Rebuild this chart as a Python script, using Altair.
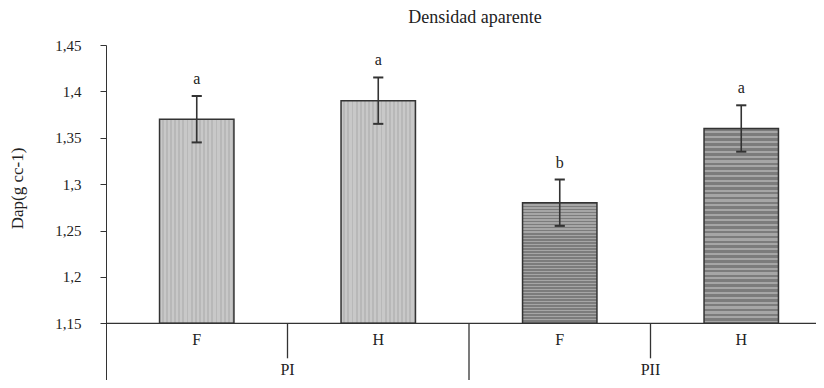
import altair as alt
import pandas as pd

# ---- data ----
groups = ["PI", "PI", "PII", "PII"]
treatments = ["F", "H", "F", "H"]
means = [1.37, 1.39, 1.28, 1.36]
errors = [0.025, 0.025, 0.025, 0.025]
letters = ["a", "a", "b", "a"]
y_ticks = [1.15, 1.2, 1.25, 1.3, 1.35, 1.4, 1.45]
title_text = "Densidad aparente"
y_title = "Dap(g cc-1)"

# ---- layout constants ----
BASE = 1.15
YTOP = 1.45
PLOT_H = 335
PPU = 278.3 / 0.3           # pixels per unit on y
YMIN = YTOP - PLOT_H / PPU
PLOT_W = 710
XMAX = PLOT_W / 181.5
FONT = "Liberation Serif"
INK = "#333333"

df = pd.DataFrame({
    "group": groups, "treat": treatments, "mean": means,
    "err": errors, "letter": letters,
})
df["pos"] = range(len(df))

# group label positions (centre of each group's members)
gdf = df.groupby("group", sort=False)["pos"].mean().reset_index()
gdf["xc"] = gdf["pos"] + 0.5

# separators: between treatments inside a group (short) and between groups (long)
sep_rows = []
for i in range(1, len(df)):
    kind = "outer" if df.loc[i, "group"] != df.loc[i - 1, "group"] else "inner"
    sep_rows.append({"xs": i, "kind": kind})
sdf = pd.DataFrame(sep_rows)

xscale = alt.Scale(domain=[0, XMAX], nice=False, zero=False)
yscale = alt.Scale(domain=[YMIN, YTOP], nice=False, zero=False)
yaxis = alt.Axis(
    values=y_ticks, grid=False, tickSize=6, tickColor=INK, domainColor=INK,
    labelFont=FONT, labelFontSize=15, labelColor="#222222", labelPadding=19,
    labelExpr="replace(format(datum.value, '.2~f'), '.', ',')",
    titleFont=FONT, titleFontSize=17, titleFontWeight="normal", titleColor="#222222",
    titleX=-80, titleY=143, titleAngle=-90,
)


def X(f):
    return alt.X(f, type="quantitative", scale=xscale, axis=None)


def Y(f):
    return alt.Y(f, type="quantitative", scale=yscale, axis=yaxis, title=y_title)


def stripes(c1, c2, n, vertical_lines):
    stops = []
    for i in range(n):
        a, b, c = i / n, (i + 0.55) / n, (i + 1) / n
        stops += [
            alt.GradientStop(color=c1, offset=a),
            alt.GradientStop(color=c1, offset=b),
            alt.GradientStop(color=c2, offset=b),
            alt.GradientStop(color=c2, offset=c),
        ]
    if vertical_lines:
        return alt.Gradient(gradient="linear", stops=stops, x1=0, x2=1, y1=0, y2=0)
    return alt.Gradient(gradient="linear", stops=stops, x1=0, x2=0, y1=0, y2=1)


fill_pi = stripes("#c8c8c8", "#b8b8b8", 18, True)
fill_pii = stripes("#7c7c7c", "#a6a6a6", 40, False)

base = alt.Chart(df).transform_calculate(
    xc="datum.pos + 0.5",
    xl="datum.pos + 0.295",
    xr="datum.pos + 0.705",
    lo="datum.mean - datum.err",
    hi="datum.mean + datum.err",
    cl="datum.pos + 0.5 - 0.028",
    cr="datum.pos + 0.5 + 0.028",
    b0=f"{BASE}",
    ylab=f"{BASE - 17 / PPU}",
)

bars_pi = base.transform_filter("datum.group == 'PI'").mark_bar(
    fill=fill_pi, stroke=INK, strokeWidth=1.5
).encode(x=X("xl"), x2="xr", y=Y("mean"), y2="b0:Q")

bars_pii = base.transform_filter("datum.group == 'PII'").mark_bar(
    fill=fill_pii, stroke=INK, strokeWidth=1.5
).encode(x=X("xl"), x2="xr", y=Y("mean"), y2="b0:Q")

err_v = base.mark_rule(color=INK, strokeWidth=1.6).encode(
    x=X("xc"), y=Y("lo"), y2="hi:Q")
err_top = base.mark_rule(color=INK, strokeWidth=2).encode(
    x=X("cl"), x2="cr", y=Y("hi"))
err_bot = base.mark_rule(color=INK, strokeWidth=2).encode(
    x=X("cl"), x2="cr", y=Y("lo"))

letter_txt = base.mark_text(
    font=FONT, fontSize=16, color="#222222", baseline="bottom", dy=-9
).encode(x=X("xc"), y=Y("hi"), text="letter:N")

treat_txt = base.mark_text(
    font=FONT, fontSize=16, color="#222222", baseline="middle"
).encode(x=X("xc"), y=Y("ylab"), text="treat:N")

baseline_rule = alt.Chart(pd.DataFrame({"b": [BASE]})).mark_rule(
    color=INK, strokeWidth=1.3).encode(y=Y("b"))

seps = alt.Chart(sdf).transform_calculate(
    y0=f"{BASE}",
    y1=f"datum.kind == 'outer' ? {YMIN} : {BASE - 35 / PPU}",
).mark_rule(color=INK, strokeWidth=1.3).encode(x=X("xs"), y=Y("y0"), y2="y1:Q")

group_txt = alt.Chart(gdf).transform_calculate(
    ylab=f"{BASE - 47 / PPU}"
).mark_text(font=FONT, fontSize=16, color="#222222", baseline="middle").encode(
    x=X("xc"), y=Y("ylab"), text="group:N")

chart = alt.layer(
    bars_pi, bars_pii, err_v, err_top, err_bot, letter_txt,
    treat_txt, baseline_rule, seps, group_txt,
).properties(
    width=PLOT_W, height=PLOT_H,
    title=alt.TitleParams(title_text, font=FONT, fontSize=18, fontWeight="normal",
                          color="#222222", anchor="middle", dx=14, offset=11),
    autosize=alt.AutoSizeParams(type="none"),
    padding={"left": 98, "top": 37, "right": 0, "bottom": 0},
).configure_view(stroke=None)

chart.save("out.html", embed_options={"renderer": "svg", "actions": False})
